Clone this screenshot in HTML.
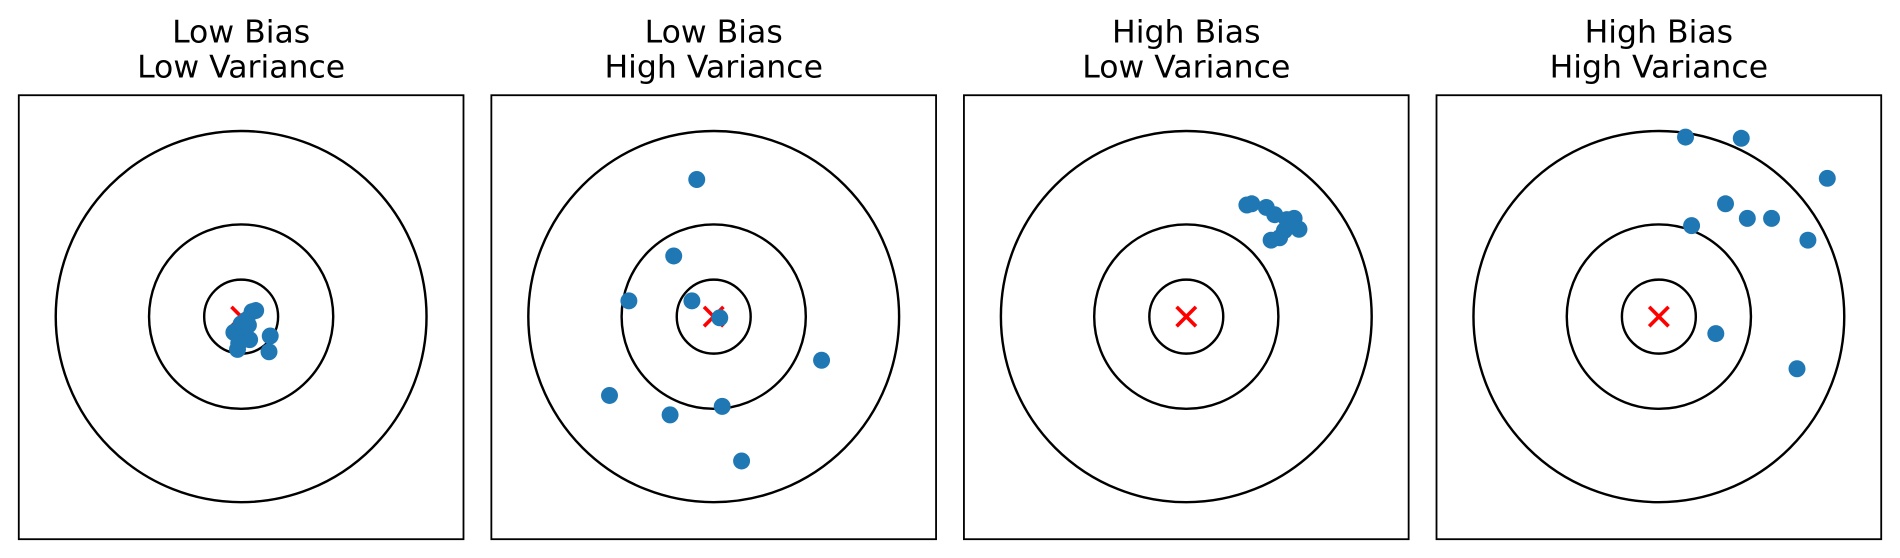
<!DOCTYPE html>
<html><head><style>html,body{margin:0;padding:0;background:#fff}svg{display:block}</style></head>
<body>
<svg width="1900" height="558" viewBox="0 0 1568 460" preserveAspectRatio="none" xmlns="http://www.w3.org/2000/svg">
<g font-family="DejaVu Sans, sans-serif" font-size="26" text-anchor="middle" fill="#000">
<text x="199" y="35">Low Bias</text><text x="199" y="64">Low Variance</text>
<text x="589" y="35">Low Bias</text><text x="589" y="64">High Variance</text>
<text x="979" y="35">High Bias</text><text x="979" y="64">Low Variance</text>
<text x="1369" y="35">High Bias</text><text x="1369" y="64">High Variance</text>
</g>
<g fill="none" stroke="#000" stroke-width="1.5">
<rect x="15.5" y="78.5" width="367" height="366"/>
<rect x="405.5" y="78.5" width="367" height="366"/>
<rect x="795.5" y="78.5" width="367" height="366"/>
<rect x="1185.5" y="78.5" width="367" height="366"/>
</g>
<g fill="none" stroke="#000" stroke-width="2">
<circle cx="199" cy="261" r="153"/><circle cx="199" cy="261" r="76"/><circle cx="199" cy="261" r="30.5"/>
<circle cx="589" cy="261" r="153"/><circle cx="589" cy="261" r="76"/><circle cx="589" cy="261" r="30.5"/>
<circle cx="979" cy="261" r="153"/><circle cx="979" cy="261" r="76"/><circle cx="979" cy="261" r="30.5"/>
<circle cx="1369" cy="261" r="153"/><circle cx="1369" cy="261" r="76"/><circle cx="1369" cy="261" r="30.5"/>
</g>
<g stroke="#ff0000" stroke-width="3">
<path d="M191 253L207 269M207 253L191 269"/>
<path d="M581 253L597 269M597 253L581 269"/>
<path d="M971 253L987 269M987 253L971 269"/>
<path d="M1361 253L1377 269M1377 253L1361 269"/>
</g>
<g fill="#1f77b4">
<circle cx="208" cy="257" r="7"/><circle cx="211" cy="256" r="7"/><circle cx="203" cy="264" r="7"/><circle cx="199" cy="267" r="7"/><circle cx="193" cy="274" r="7"/><circle cx="201" cy="272" r="7"/><circle cx="206" cy="280" r="7"/><circle cx="196" cy="288" r="7"/><circle cx="223" cy="277" r="7"/><circle cx="222" cy="290" r="7"/><circle cx="205" cy="268" r="7"/><circle cx="197" cy="283" r="7"/>
<circle cx="575" cy="148" r="7"/><circle cx="556" cy="211" r="7"/><circle cx="519" cy="248" r="7"/><circle cx="571" cy="248" r="7"/><circle cx="594" cy="262" r="7"/><circle cx="678" cy="297" r="7"/><circle cx="503" cy="326" r="7"/><circle cx="553" cy="342" r="7"/><circle cx="596" cy="335" r="7"/><circle cx="612" cy="380" r="7"/>
<circle cx="1029" cy="169" r="7"/><circle cx="1033" cy="168" r="7"/><circle cx="1045" cy="171" r="7"/><circle cx="1052" cy="177" r="7"/><circle cx="1062" cy="181" r="7"/><circle cx="1068" cy="180" r="7"/><circle cx="1072" cy="189" r="7"/><circle cx="1060" cy="190" r="7"/><circle cx="1056" cy="196" r="7"/><circle cx="1049" cy="198" r="7"/><circle cx="1064" cy="186" r="7"/>
<circle cx="1391" cy="113" r="7"/><circle cx="1437" cy="114" r="7"/><circle cx="1508" cy="147" r="7"/><circle cx="1424" cy="168" r="7"/><circle cx="1442" cy="180" r="7"/><circle cx="1462" cy="180" r="7"/><circle cx="1396" cy="186" r="7"/><circle cx="1492" cy="198" r="7"/><circle cx="1416" cy="275" r="7"/><circle cx="1483" cy="304" r="7"/>
</g>
</svg>
</body></html>
